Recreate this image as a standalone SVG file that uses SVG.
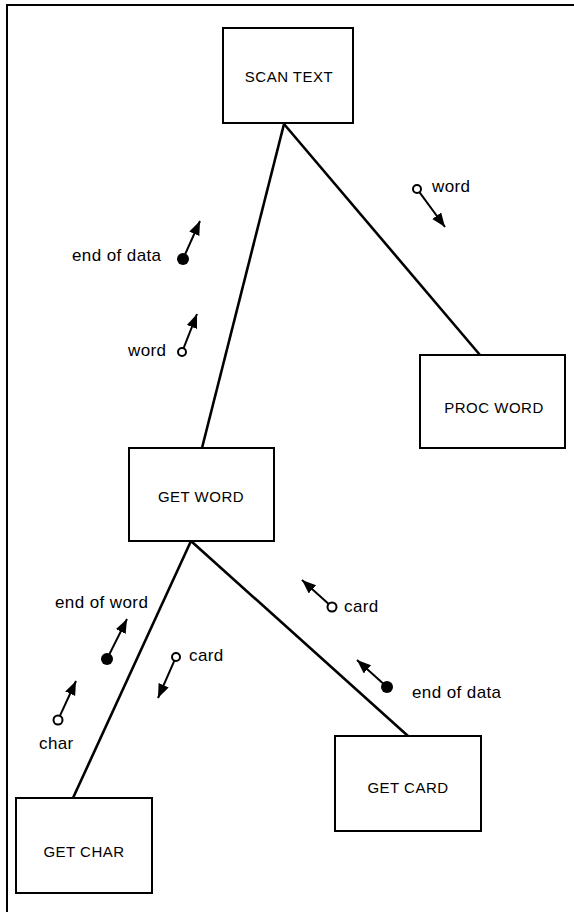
<svg xmlns="http://www.w3.org/2000/svg" width="574" height="912" viewBox="0 0 574 912">
<style>
.box{fill:#fff;stroke:#000;stroke-width:2}
.bt{font-family:"Liberation Sans",Arial,sans-serif;font-size:15px;letter-spacing:0.5px;text-anchor:middle;fill:#000}
.lb{font-family:"Liberation Sans",Arial,sans-serif;font-size:17px;letter-spacing:0.4px;fill:#000}
.con{stroke:#000;stroke-width:2.6;fill:none}
.arr{stroke:#000;stroke-width:2;fill:none;marker-end:url(#ah)}
.oc{fill:#fff;stroke:#000;stroke-width:2}
.fc{fill:#000}
</style>
<defs>
<marker id="ah" markerUnits="userSpaceOnUse" markerWidth="15" markerHeight="12" refX="14" refY="5.5" orient="auto">
<path d="M0,0 L14,5.5 L0,11 z" fill="#000"/>
</marker>
</defs>
<rect width="574" height="912" fill="#fff"/>
<g id="frame"><path d="M7,912 L7,5 L574,5" fill="none" stroke="#000" stroke-width="2"/></g>
<g id="connectors">
<line class="con" x1="284" y1="124" x2="202" y2="448"/>
<line class="con" x1="284" y1="124" x2="480" y2="355"/>
<line class="con" x1="191" y1="541" x2="73" y2="798"/>
<line class="con" x1="191" y1="541" x2="408" y2="736"/>
</g>
<g id="scan-text"><rect class="box" x="223" y="28" width="130" height="95"/><text class="bt" x="289" y="82">SCAN TEXT</text></g>
<g id="proc-word"><rect class="box" x="420" y="355" width="145" height="93"/><text class="bt" x="494" y="413">PROC WORD</text></g>
<g id="get-word"><rect class="box" x="129" y="448" width="145" height="93"/><text class="bt" x="201" y="502">GET WORD</text></g>
<g id="get-card"><rect class="box" x="335" y="736" width="146" height="95"/><text class="bt" x="408" y="793">GET CARD</text></g>
<g id="get-char"><rect class="box" x="16" y="798" width="136" height="95"/><text class="bt" x="84" y="857">GET CHAR</text></g>
<g id="couples">
<line class="arr" x1="419.4" y1="192.2" x2="445" y2="227"/><circle class="oc" cx="417" cy="189" r="4"/><text class="lb" x="432" y="192">word</text>
<line class="arr" x1="183" y1="259" x2="200" y2="221"/><circle class="fc" cx="183" cy="259" r="6"/><text class="lb" x="72" y="261">end of data</text>
<line class="arr" x1="183.5" y1="348.3" x2="197" y2="314"/><circle class="oc" cx="182" cy="352" r="4"/><text class="lb" x="128" y="356">word</text>
<line class="arr" x1="107" y1="659" x2="127" y2="619"/><circle class="fc" cx="107" cy="659" r="6"/><text class="lb" x="55" y="608">end of word</text>
<line class="arr" x1="174.4" y1="660.7" x2="158" y2="698"/><circle class="oc" cx="176" cy="657" r="4"/><text class="lb" x="189" y="661">card</text>
<line class="arr" x1="59.9" y1="715.9" x2="76" y2="681"/><circle class="oc" cx="58" cy="720" r="4.5"/><text class="lb" x="39" y="749">char</text>
<line class="arr" x1="328.7" y1="604" x2="302" y2="580"/><circle class="oc" cx="332" cy="607" r="4.5"/><text class="lb" x="344" y="612">card</text>
<line class="arr" x1="387" y1="687" x2="357" y2="660"/><circle class="fc" cx="387" cy="687" r="6"/><text class="lb" x="412" y="698">end of data</text>
</g>
</svg>
